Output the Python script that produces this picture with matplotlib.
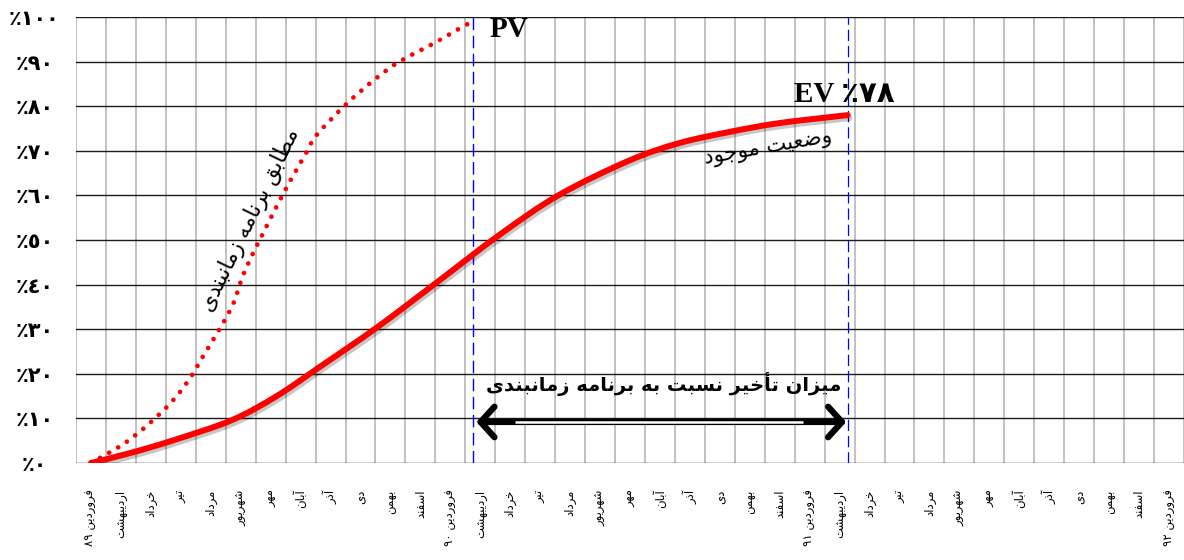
import re
import matplotlib
matplotlib.use('Agg')
import matplotlib.pyplot as plt
import matplotlib.patheffects as pe
from matplotlib.path import Path
from matplotlib.patches import PathPatch

# persian month names (logical order) and year suffixes
month_names = ['فروردین', 'اردیبهشت', 'خرداد', 'تیر', 'مرداد', 'شهریور',
               'مهر', 'آبان', 'آذر', 'دی', 'بهمن', 'اسفند']
year_labels = ['٨٩', '٩٠', '٩١', '٩٢']
y_values = [0, 10, 20, 30, 40, 50, 60, 70, 80, 90, 100]

# planned value (dotted), x = month index
pv_month = [0, 0.47, 1.03, 1.57, 2.07, 2.57, 3.03, 3.4, 3.73, 4.13, 4.73, 5.2,
            6.4, 7.2, 7.53, 8.53, 9.53, 10.3, 11.53, 12.4, 12.77]
pv_value = [0, 1.8, 4.0, 6.7, 9.6, 12.8, 16.4, 20, 23.8, 28.2, 35.4, 44,
            60.1, 69.7, 73.5, 80.5, 86.3, 90, 94.4, 97.8, 99]

# earned value (solid)
ev_month = [0, 1.4, 2.8, 4.7, 6.2, 7.63, 9.53, 11.53, 13.63, 15.63, 17.97, 19.63,
            21.3, 22.97, 25.27]
ev_value = [0, 2.4, 5.2, 9.6, 15.0, 21.5, 30.3, 40.4, 51.1, 60.1, 67.8, 71.7,
            74.2, 76.2, 78]

tick_labels = []
for y in year_labels[:3]:
    for m in month_names:
        tick_labels.append(m + ' ' + y if m == 'فروردین' else m)
tick_labels.append('فروردین ' + year_labels[3])

# --- minimal arabic/persian shaping (no bidi in matplotlib) ---
DUAL = {
    'ب': 'ﺏﺐﺑﺒ', 'ت': 'ﺕﺖﺗﺘ', 'ج': 'ﺝﺞﺟﺠ', 'خ': 'ﺥﺦﺧﺨ', 'س': 'ﺱﺲﺳﺴ',
    'ش': 'ﺵﺶﺷﺸ', 'ض': 'ﺽﺾﺿﻀ', 'ط': 'ﻁﻂﻃﻄ', 'ع': 'ﻉﻊﻋﻌ', 'ف': 'ﻑﻒﻓﻔ',
    'ق': 'ﻕﻖﻗﻘ', 'م': 'ﻡﻢﻣﻤ', 'ن': 'ﻥﻦﻧﻨ', 'ه': 'ﻩﻪﻫﻬ', 'ی': 'ﻯﻰﻳﻴ',
}
RIGHT = {
    'ا': 'ﺍﺎ', 'آ': 'ﺁﺂ', 'أ': 'ﺃﺄ', 'د': 'ﺩﺪ', 'ذ': 'ﺫﺬ', 'ر': 'ﺭﺮ',
    'ز': 'ﺯﺰ', 'و': 'ﻭﻮ',
}


def shape(text):
    out = []
    for i, c in enumerate(text):
        if c not in DUAL and c not in RIGHT:
            out.append(c)
            continue
        prev = text[i - 1] if i > 0 else ''
        nxt = text[i + 1] if i + 1 < len(text) else ''
        jp = prev in DUAL
        jn = c in DUAL and (nxt in DUAL or nxt in RIGHT)
        forms = DUAL.get(c) or RIGHT[c]
        if jp and jn:
            out.append(forms[3])
        elif jp:
            out.append(forms[1])
        elif jn:
            out.append(forms[2])
        else:
            out.append(forms[0])
    s = ''.join(out)[::-1]
    return re.sub(r'[0-9٠-٩]+', lambda m: m.group()[::-1], s)


def smooth_path(xs, ys):
    # catmull-rom through the points, as bezier segments
    verts = [(xs[0], ys[0])]
    codes = [Path.MOVETO]
    n = len(xs)
    for i in range(n - 1):
        x0, y0 = (xs[i - 1], ys[i - 1]) if i > 0 else (xs[i], ys[i])
        x1, y1 = xs[i], ys[i]
        x2, y2 = xs[i + 1], ys[i + 1]
        x3, y3 = (xs[i + 2], ys[i + 2]) if i + 2 < n else (x2, y2)
        verts += [(x1 + (x2 - x0) / 6, y1 + (y2 - y0) / 6),
                  (x2 - (x3 - x1) / 6, y2 - (y3 - y1) / 6),
                  (x2, y2)]
        codes += [Path.CURVE4] * 3
    return Path(verts, codes)


fig = plt.figure(figsize=(11.84, 5.6), dpi=100)
ax = fig.add_axes([76 / 1184, 97 / 560, 1108 / 1184, 446 / 560])

ax.set_xlim(-0.5, 36.5)
ax.set_ylim(0, 100)
for s in ax.spines.values():
    s.set_visible(False)

ax.set_xticks(range(len(tick_labels)))
ax.set_xticks([i - 0.5 for i in range(len(tick_labels) + 1)], minor=True)
ax.set_xticklabels([shape(t) for t in tick_labels], rotation=90, fontsize=8.4,
                   family='DejaVu Sans', va='top')
ax.set_yticks(y_values)
ax.set_yticklabels(['٪' + str(v).translate(str.maketrans('0123456789', '٠١٢٣٤٥٦٧٨٩'))
                    for v in y_values], fontsize=15, fontweight='bold', ha='center')
ax.tick_params(axis='both', which='both', length=0)
ax.tick_params(axis='x', pad=19)
ax.tick_params(axis='y', pad=30)

ax.grid(True, axis='x', which='minor', color='#b0b0b0', lw=1.1)
ax.grid(True, axis='y', which='major', color='#1a1a1a', lw=1.0)
ax.grid(False, axis='x', which='major')
ax.set_axisbelow(True)

ax.add_patch(PathPatch(smooth_path(pv_month, pv_value), fill=False, edgecolor='#ff0000',
                       lw=3.4, linestyle=(0, (0.01, 2.2)), capstyle='round', zorder=4))
ax.add_patch(PathPatch(smooth_path(ev_month, ev_value), fill=False, edgecolor='#ff0000',
                       lw=4.3, capstyle='round', joinstyle='round', zorder=4,
                       path_effects=[pe.SimpleLineShadow(offset=(1.2, -2.2), shadow_color='black',
                                                         alpha=0.22),
                                     pe.Normal()]))

x_pv = pv_month[-1]
x_ev = ev_month[-1]
ax.axvline(x_pv, color='#0000ff', lw=1.0, dashes=(9, 4), zorder=3)
ax.axvline(x_ev, color='#0000ff', lw=0.9, dashes=(9, 4), zorder=3)

serif = ['Liberation Serif', 'DejaVu Sans']
ax.text(x_pv + 0.55, 97.3, 'PV', fontsize=21, fontweight='bold', family=serif,
        ha='left', va='center')
ax.text(x_ev - 1.8, 82.6, 'EV ' + '٪٧٨', fontsize=21, fontweight='bold', family=serif,
        ha='left', va='center')

ax.text(5.3, 54.5, shape('مطابق برنامه زمانبندی'), fontsize=15.5, rotation=64,
        ha='center', va='center', family='DejaVu Sans', rotation_mode='anchor')
ax.text(22.6, 70.6, shape('وضعیت موجود'), fontsize=15.5, rotation=10,
        ha='center', va='center', family='DejaVu Sans', rotation_mode='anchor')
ax.text((x_pv + x_ev) / 2 + 0.1, 17.8, shape('میزان تأخیر نسبت به برنامه زمانبندی'),
        fontsize=14, fontweight='bold', ha='center', va='center', family='DejaVu Sans')

# delay arrow between the two dashed lines
ay = 9.2
ax.annotate('', xy=(x_pv + 0.1, ay), xytext=(x_ev - 0.05, ay),
            arrowprops=dict(arrowstyle='<->,head_length=1.0,head_width=1.1',
                            lw=4.5, color='black', shrinkA=0, shrinkB=0), zorder=5)
ax.plot([x_pv + 1.4, x_ev - 1.5], [ay, ay], color='white', lw=1.8, zorder=6,
        solid_capstyle='butt')

fig.savefig('out.png', dpi=100)
